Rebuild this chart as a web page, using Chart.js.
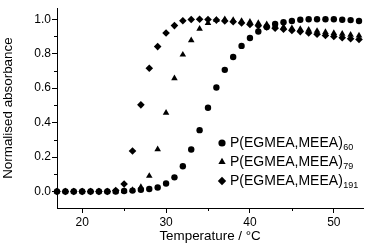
<!DOCTYPE html>
<html>
<head>
<meta charset="utf-8">
<script src="https://cdn.jsdelivr.net/npm/chart.js@4/dist/chart.umd.min.js"></script>
<style>
html,body{margin:0;padding:0;background:#fff;}
#wrap{width:367px;height:252px;position:relative;}
</style>
</head>
<body>
<div id="wrap"><canvas id="c" width="367" height="252"></canvas></div>
<script>
const temperatures = [17,18,19,20,21,22,23,24,25,26,27,28,29,30,31,32,33,34,35,36,37,38,39,40,41,42,43,44,45,46,47,48,49,50,51,52,53];
const p60  = [0,0,0,0,0,0,0,0,0.003,0.005,0.01,0.014,0.023,0.046,0.082,0.146,0.244,0.356,0.486,0.604,0.706,0.781,0.845,0.891,0.929,0.955,0.972,0.982,0.99,0.997,1.0,1.0,1.0,1.0,0.997,0.995,0.99];
const p79  = [0,0,0,0,0,0,0,0,0.002,0.008,0.025,0.09,0.245,0.456,0.657,0.794,0.878,0.944,0.978,0.995,1.0,0.995,0.99,0.985,0.978,0.97,0.963,0.955,0.948,0.943,0.938,0.932,0.925,0.92,0.915,0.91,0.905];
const p191 = [0,0,0,0,0,0,0,0.005,0.043,0.235,0.503,0.715,0.841,0.92,0.963,0.991,0.998,1.0,0.998,0.995,0.99,0.985,0.978,0.97,0.962,0.955,0.948,0.942,0.935,0.928,0.92,0.913,0.906,0.9,0.893,0.887,0.882];
const seriesNames = ["P(EGMEA,MEEA)","P(EGMEA,MEEA)","P(EGMEA,MEEA)"];
const seriesSubscripts = ["60","79","191"];
const xTickValues = [20,30,40,50];
const xMinorTicks = [25,35,45];
const yTickValues = [0,0.2,0.4,0.6,0.8,1.0];
const yMinorTicks = [0.1,0.3,0.5,0.7,0.9];
const xTitle = "Temperature / \u00B0C";
const yTitle = "Normalised absorbance";

const FONT = "'Liberation Sans', Arial, Helvetica, sans-serif";
const styles = ['circle','triangle','rectRot'];
const radii = [3.2,3.8,3.8];

function toXY(vals){ return temperatures.map((t,i)=>({x:t,y:vals[i]})); }

const datasets = [p60,p79,p191].map((v,i)=>({
  label: seriesNames[i] + seriesSubscripts[i],
  data: toXY(v),
  showLine:false,
  pointStyle: styles[i],
  pointRadius: radii[i],
  pointHoverRadius: radii[i],
  backgroundColor:'#000',
  borderColor:'#000',
  borderWidth:0,
  clip:false
}));

const minorTicksPlugin = {
  id:'minorTicks',
  afterDraw(chart){
    const ctx = chart.ctx, xs = chart.scales.x, ys = chart.scales.y;
    ctx.save();
    ctx.strokeStyle='#000'; ctx.lineWidth=1;
    ctx.beginPath();
    xMinorTicks.forEach(v=>{
      const px = Math.round(xs.getPixelForValue(v))+0.5;
      ctx.moveTo(px, xs.top); ctx.lineTo(px, xs.top+3);
    });
    yMinorTicks.forEach(v=>{
      const py = Math.round(ys.getPixelForValue(v))+0.5;
      ctx.moveTo(ys.right, py); ctx.lineTo(ys.right-3, py);
    });
    ctx.stroke();
    ctx.restore();
  }
};

const legendPlugin = {
  id:'customLegend',
  afterDraw(chart){
    const ctx = chart.ctx;
    const ys = [143, 162, 181];
    const mx = 222, tx = 230;
    ctx.save();
    seriesNames.forEach((name,i)=>{
      const y = ys[i];
      const opts = {pointStyle: styles[i], radius: radii[i]+0.4, rotation:0, borderWidth:0};
      ctx.fillStyle='#000'; ctx.strokeStyle='#000'; ctx.lineWidth=0;
      Chart.helpers.drawPoint(ctx, opts, mx, y);
      ctx.font = "14px " + FONT;
      ctx.textBaseline = 'middle';
      ctx.textAlign = 'left';
      ctx.fillText(name, tx, y);
      const w = ctx.measureText(name).width;
      ctx.font = "9px " + FONT;
      ctx.fillText(seriesSubscripts[i], tx + w + 0.5, y + 5);
    });
    ctx.restore();
  }
};

new Chart(document.getElementById('c'), {
  type:'scatter',
  data:{datasets},
  options:{
    responsive:false,
    animation:false,
    events:[],
    layout:{padding:{left:0,right:2,top:2,bottom:0}},
    plugins:{legend:{display:false}, tooltip:{enabled:false}},
    scales:{
      x:{
        type:'linear', min:17, max:53.5,
        afterBuildTicks(s){ s.ticks = xTickValues.map(v=>({value:v})); },
        afterFit(s){ s.height = 44; },
        ticks:{ color:'#000', font:{family:FONT,size:12}, padding:2, maxRotation:0,
          callback:(v)=>String(v) },
        grid:{ display:true, drawOnChartArea:false, drawTicks:true, tickLength:5, color:'#000', tickColor:'#000' },
        border:{ display:true, color:'#000', width:1 },
        title:{ display:true, text:xTitle, color:'#000', font:{family:FONT,size:13.4}, padding:{top:0,bottom:8} }
      },
      y:{
        type:'linear', min:-0.096, max:1.064,
        afterBuildTicks(s){ s.ticks = yTickValues.map(v=>({value:v})); },
        afterFit(s){ s.width = 57; },
        ticks:{ color:'#000', font:{family:FONT,size:12}, padding:1,
          callback:(v)=>Number(v).toFixed(1) },
        grid:{ display:true, drawOnChartArea:false, drawTicks:true, tickLength:5, color:'#000', tickColor:'#000' },
        border:{ display:true, color:'#000', width:1 },
        title:{ display:true, text:yTitle, color:'#000', font:{family:FONT,size:13.4}, padding:{top:0,bottom:0} }
      }
    }
  },
  plugins:[minorTicksPlugin, legendPlugin]
});
</script>
</body>
</html>
